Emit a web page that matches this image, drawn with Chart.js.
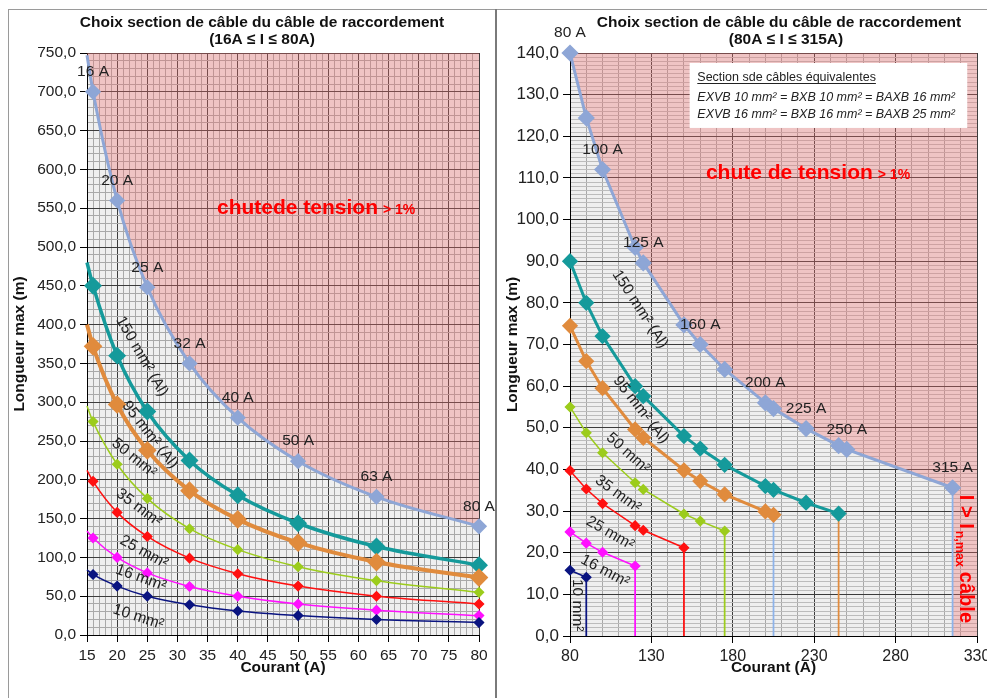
<!DOCTYPE html>
<html>
<head>
<meta charset="utf-8">
<script src="https://cdn.jsdelivr.net/npm/chart.js@4.4.1/dist/chart.umd.min.js"></script>
<style>
  html, body { margin: 0; padding: 0; background: #fff; }
  body { width: 987px; height: 698px; position: relative; overflow: hidden; }
  #boxLeft { position: absolute; left: 0; top: 0; width: 497px; height: 698px; }
  #boxRight { position: absolute; left: 497px; top: 0; width: 490px; height: 698px; }
  .line { position: absolute; }
  #topLine { left: 8px; top: 9px; width: 979px; border-top: 1px solid #9a9a9a; }
  #leftLine { left: 8px; top: 9px; height: 689px; border-left: 1px solid #9a9a9a; }
  #midLine { left: 495px; top: 9px; height: 689px; border-left: 2px solid #7a7a7a; }
</style>
</head>
<body>
<div id="boxLeft"><canvas id="chartLeft" width="497" height="698"></canvas></div>
<div id="boxRight"><canvas id="chartRight" width="490" height="698"></canvas></div>
<div class="line" id="topLine"></div>
<div class="line" id="leftLine"></div>
<div class="line" id="midLine"></div>
<script>
// ---- donnees graphe gauche (16A..80A) ----
var leftCurrents = [15, 16, 20, 25, 32, 40, 50, 63, 80];
var leftLimit  = [747, 700, 560, 448, 350, 280, 224, 178, 140];
var left150Al  = [480, 450, 360, 288, 225, 180, 144, 114, 90];
var left95Al   = [400, 372, 297, 238, 186, 149, 119, 94, 74];
var left50     = [295, 275, 220, 176, 137, 110, 88, 70, 55];
var left35     = [212, 198, 158, 127, 99, 79, 63, 50, 40];
var left25     = [134, 125, 100, 80, 62.5, 50, 40, 32, 25];
var left16     = [84, 78, 63, 50, 39, 31, 25, 20, 16];
var leftLabelCurrents = [16, 20, 25, 32, 40, 50, 63, 80];

// ---- donnees graphe droite (80A..315A) ----
var rightCurrents = [80, 90, 100, 120, 125, 150, 160, 175, 200, 205, 225, 245, 250, 315];
var rightLimit  = [140, 124.4, 112, 93.3, 89.6, 74.7, 70, 64, 56, 54.6, 49.8, 45.7, 44.8, 35.6];
var right150Al  = [90, 80, 72, 60, 57.6, 48, 45, 41.1, 36, 35.1, 32, 29.4];
var right95Al   = [74.5, 66, 59.5, 49.6, 47.6, 39.8, 37.2, 34, 29.9, 29.1];
var right50     = [55, 48.8, 44, 36.8, 35.2, 29.3, 27.6, 25.2];
var right35     = [39.7, 35.3, 31.8, 26.5, 25.4, 21.2];
var right25     = [25, 22.3, 20.1, 16.8];
var right16     = [15.8, 14.1];
var rightLabelCurrents = [80, 100, 125, 160, 200, 225, 250, 315];

var FONT = "'Liberation Sans', Arial, sans-serif";
var STEEL = '#8ea6d6', TEAL = '#159a9b', ORANGE = '#e08b3d', GREEN = '#9ccc1c',
    RED = '#ff1010', MAGENTA = '#ff10ff', NAVY = '#0a1480', LIGHTBLUE = '#8db3ea';
var PINK = 'rgba(240,110,110,0.33)';

Chart.defaults.font.family = FONT;
Chart.defaults.color = '#222';

function pts(xs, ys) {
  return ys.map(function(y, i) { return {x: xs[i], y: y}; });
}
function fmt(v) { return v.toFixed(1).replace('.', ','); }

function serie(xs, ys, color, width, radius, smooth, hideFirst) {
  return {
    data: pts(xs, ys),
    borderColor: color,
    backgroundColor: color,
    pointBackgroundColor: color,
    pointBorderColor: color,
    borderWidth: width,
    pointStyle: 'rectRot',
    pointRadius: ys.map(function(v, i) { return (hideFirst && i === 0) ? 0 : radius; }),
    cubicInterpolationMode: smooth ? 'monotone' : 'default',
    tension: 0,
    fill: false,
    clip: false
  };
}

// zone rose au dessus de la courbe limite
function zone(data, smooth) {
  return {
    data: data,
    borderWidth: 0,
    borderColor: 'rgba(0,0,0,0)',
    pointRadius: 0,
    fill: 'end',
    backgroundColor: PINK,
    cubicInterpolationMode: smooth ? 'monotone' : 'default',
    tension: 0
  };
}

function drop(x, top, color) {
  return {
    data: [{x: x, y: top}, {x: x, y: 0}],
    borderColor: color, borderWidth: 1.75, pointRadius: 0, fill: false, clip: false
  };
}

function axis(min, max, step, isMajor, label, size, grid, minor, extra) {
  var o = {
    type: 'linear', min: min, max: max,
    ticks: {
      stepSize: step, autoSkip: false, maxRotation: 0, minRotation: 0,
      color: '#222', font: {size: size}, padding: 4,
      callback: function(v) { return isMajor(v) ? label(v) : ''; }
    },
    grid: {
      color: function(c) { return c.tick && isMajor(c.tick.value) ? grid : minor; },
      tickColor: function(c) { return c.tick && isMajor(c.tick.value) ? '#000' : 'rgba(0,0,0,0)'; },
      tickLength: 7, lineWidth: 1
    },
    border: {color: '#000', width: 1}
  };
  for (var k in extra) o[k] = extra[k];
  return o;
}

function say(c, s, x, y, o) {
  o = o || {};
  c.save();
  c.translate(x, y);
  if (o.angle) c.rotate(o.angle * Math.PI / 180);
  c.font = (o.style || 'normal') + ' ' + (o.weight || 'normal') + ' ' + (o.size || 15.5) + 'px ' + FONT;
  c.fillStyle = o.color || '#222';
  c.textAlign = o.align || 'center';
  c.textBaseline = o.base || 'middle';
  c.fillText(s, 0, 0);
  var w = c.measureText(s).width;
  c.restore();
  return w;
}

function decor(draw) {
  return {
    id: 'decor',
    beforeDraw: function(chart) {
      var a = chart.chartArea, c = chart.ctx;
      c.save();
      c.fillStyle = '#efefef';
      c.fillRect(a.left, a.top, a.right - a.left, a.bottom - a.top);
      c.restore();
    },
    afterDatasetsDraw: function(chart) {
      draw(chart.ctx, chart.scales.x, chart.scales.y);
    }
  };
}

function pointLabels(c, sx, sy, currents, limit, wanted) {
  wanted.forEach(function(I) {
    var i = currents.indexOf(I);
    say(c, I + ' A', sx.getPixelForValue(I), sy.getPixelForValue(limit[i]) - 20, {});
  });
}

function redText(c, sx, sy, x, y, big) {
  var px = sx.getPixelForValue(x), py = sy.getPixelForValue(y);
  var w = say(c, big, px, py, {size: 21, weight: 'bold', color: '#ff0000', align: 'left', base: 'alphabetic'});
  say(c, '> 1%', px + w + 5, py, {size: 14, weight: 'bold', color: '#ff0000', align: 'left', base: 'alphabetic'});
}

// ---------------- graphe gauche ----------------
var leftNotes = [
  {t: '150 mm² (Al)', x: 24.1, y: 359, a: 60},
  {t: '95 mm² (Al)', x: 25.45, y: 258, a: 52},
  {t: '50 mm²', x: 22.8, y: 228, a: 39},
  {t: '35 mm²', x: 23.6, y: 164, a: 37},
  {t: '25 mm²', x: 24.45, y: 107, a: 29},
  {t: '16 mm²', x: 23.95, y: 73.5, a: 20},
  {t: '10 mm²', x: 23.5, y: 23, a: 18}
];

new Chart(document.getElementById('chartLeft'), {
  type: 'line',
  data: {
    datasets: [
      serie(leftCurrents, left16, NAVY, 1.5, 4.5, true, true),
      serie(leftCurrents, left25, MAGENTA, 1.5, 4.5, true, true),
      serie(leftCurrents, left35, RED, 1.5, 4.5, true, true),
      serie(leftCurrents, left50, GREEN, 1.5, 4.5, true, true),
      serie(leftCurrents, left95Al, ORANGE, 4, 6.5, true, true),
      serie(leftCurrents, left150Al, TEAL, 3.5, 6.5, true, true),
      serie(leftCurrents, leftLimit, STEEL, 3, 6, true, true),
      zone(pts(leftCurrents, leftLimit), true)
    ]
  },
  options: {
    responsive: false, animation: false, devicePixelRatio: 1,
    layout: {padding: {left: 0, right: 18, top: 53, bottom: 0}},
    plugins: {legend: {display: false}, tooltip: {enabled: false}},
    scales: {
      x: axis(15, 80, 1, function(v) { return Math.round(v) % 5 === 0; }, function(v) { return String(v); },
        15.5, '#3c3c3c', '#a9a9a9', {
          title: {display: true, text: 'Courant (A)', color: '#111', font: {size: 15.5, weight: 'bold'}, padding: {top: 0, bottom: 21}},
          afterFit: function(s) { s.height = 63; s.paddingLeft = 0; s.paddingRight = 0; }
        }),
      y: axis(0, 750, 10, function(v) { return Math.round(v) % 50 === 0; }, fmt,
        15.5, '#3c3c3c', '#a9a9a9', {
          title: {display: true, text: 'Longueur max (m)', color: '#111', font: {size: 15.5, weight: 'bold'}, padding: {top: 10, bottom: 0}},
          afterFit: function(s) { s.width = 87; s.paddingTop = 0; s.paddingBottom = 0; }
        })
    }
  },
  plugins: [decor(function(c, sx, sy) {
    say(c, 'Choix section de câble du câble de raccordement', 262, 23, {size: 15.5, weight: 'bold', color: '#111'});
    say(c, '(16A ≤ I ≤ 80A)', 262, 40, {size: 15.5, weight: 'bold', color: '#111'});
    pointLabels(c, sx, sy, leftCurrents, leftLimit, leftLabelCurrents);
    leftNotes.forEach(function(n) {
      say(c, n.t, sx.getPixelForValue(n.x), sy.getPixelForValue(n.y), {angle: n.a});
    });
    redText(c, sx, sy, 36.55, 542.5, 'chutede tension');
  })]
});

// ---------------- graphe droite ----------------
var rightNotes = [
  {t: '150 mm² (Al)', x: 123, y: 78.5, a: 57},
  {t: '95 mm² (Al)', x: 123.6, y: 54.3, a: 52},
  {t: '50 mm²', x: 115.6, y: 43.9, a: 42},
  {t: '35 mm²', x: 109.5, y: 34.1, a: 36},
  {t: '25 mm²', x: 104.6, y: 24.7, a: 30},
  {t: '16 mm²', x: 101.5, y: 15.6, a: 28},
  {t: '10 mm²', x: 84.3, y: 7.4, a: 90}
];

var rightSeries = [
  {ys: right16, color: NAVY, w: 1.5, r: 4.5, drop: NAVY},
  {ys: right25, color: MAGENTA, w: 1.5, r: 4.5, drop: MAGENTA},
  {ys: right35, color: RED, w: 1.5, r: 4.5, drop: RED},
  {ys: right50, color: GREEN, w: 1.5, r: 4.5, drop: GREEN},
  {ys: right95Al, color: ORANGE, w: 3, r: 6, drop: LIGHTBLUE},
  {ys: right150Al, color: TEAL, w: 3, r: 6, drop: ORANGE},
  {ys: rightLimit, color: STEEL, w: 3, r: 6.5, drop: LIGHTBLUE}
];

var rightSets = [];
rightSeries.forEach(function(s) {
  rightSets.push(serie(rightCurrents, s.ys, s.color, s.w, s.r, false, false));
});
rightSeries.forEach(function(s) {
  var n = s.ys.length - 1;
  rightSets.push(drop(rightCurrents[n], s.ys[n], s.drop));
});
rightSets.push(zone(pts(rightCurrents, rightLimit).concat([{x: 315, y: 0}, {x: 330, y: 0}]), false));

new Chart(document.getElementById('chartRight'), {
  type: 'line',
  data: {datasets: rightSets},
  options: {
    responsive: false, animation: false, devicePixelRatio: 1,
    layout: {padding: {left: 0, right: 10, top: 53, bottom: 0}},
    plugins: {legend: {display: false}, tooltip: {enabled: false}},
    scales: {
      x: axis(80, 330, 10, function(v) { return Math.round(v - 80) % 50 === 0; }, function(v) { return String(v); },
        16, '#3c3c3c', '#a8a8a8', {
          title: {display: true, text: 'Courant (A)', color: '#111', font: {size: 15.5, weight: 'bold'}, padding: {top: 0, bottom: 21}},
          afterFit: function(s) { s.height = 62; s.paddingLeft = 0; s.paddingRight = 0; }
        }),
      y: axis(0, 140, 1, function(v) { return Math.round(v) % 10 === 0; }, fmt,
        17, '#3c3c3c', '#bcbcbc', {
          title: {display: true, text: 'Longueur max (m)', color: '#111', font: {size: 15.5, weight: 'bold'}, padding: {top: 6, bottom: 0}},
          afterFit: function(s) { s.width = 73; s.paddingTop = 0; s.paddingBottom = 0; }
        })
    }
  },
  plugins: [decor(function(c, sx, sy) {
    say(c, 'Choix section de câble du câble de raccordement', 282, 23, {size: 15.5, weight: 'bold', color: '#111'});
    say(c, '(80A ≤ I ≤ 315A)', 289, 40, {size: 15.5, weight: 'bold', color: '#111'});

    // encadre des sections equivalentes
    var bx0 = sx.getPixelForValue(153.5), bx1 = sx.getPixelForValue(324);
    var by0 = sy.getPixelForValue(137.6), by1 = sy.getPixelForValue(122);
    c.save();
    c.fillStyle = '#fff';
    c.fillRect(bx0, by0, bx1 - bx0, by1 - by0);
    c.restore();
    var tx = sx.getPixelForValue(158.2);
    var ty = sy.getPixelForValue(133.3);
    var w = say(c, 'Section sde câbles équivalentes', tx, ty, {size: 12.5, align: 'left', base: 'alphabetic'});
    c.save();
    c.strokeStyle = '#222'; c.lineWidth = 1;
    c.beginPath(); c.moveTo(tx, Math.round(ty) + 2.5); c.lineTo(tx + w, Math.round(ty) + 2.5); c.stroke();
    c.restore();
    say(c, 'EXVB 10 mm² = BXB 10 mm² = BAXB 16 mm²', tx, sy.getPixelForValue(128.5), {size: 12.5, style: 'italic', align: 'left', base: 'alphabetic'});
    say(c, 'EXVB 16 mm² = BXB 16 mm² = BAXB 25 mm²', tx, sy.getPixelForValue(124.4), {size: 12.5, style: 'italic', align: 'left', base: 'alphabetic'});

    pointLabels(c, sx, sy, rightCurrents, rightLimit, rightLabelCurrents);
    rightNotes.forEach(function(n) {
      say(c, n.t, sx.getPixelForValue(n.x), sy.getPixelForValue(n.y), {angle: n.a});
    });
    redText(c, sx, sy, 163.5, 109.8, 'chute de tension');

    // I > In,max cable (vertical)
    var vx = sx.getPixelForValue(323.2), vy = sy.getPixelForValue(33.9);
    c.save();
    c.translate(vx, vy);
    c.rotate(Math.PI / 2);
    var w1 = say(c, 'I > I', 0, 0, {size: 20, weight: 'bold', color: '#ff0000', align: 'left'});
    var w2 = say(c, 'n,max', w1 + 2, 6, {size: 12.5, weight: 'bold', color: '#ff0000', align: 'left'});
    say(c, 'câble', w1 + w2 + 7, 0, {size: 20, weight: 'bold', color: '#ff0000', align: 'left'});
    c.restore();
  })]
});
</script>
</body>
</html>
